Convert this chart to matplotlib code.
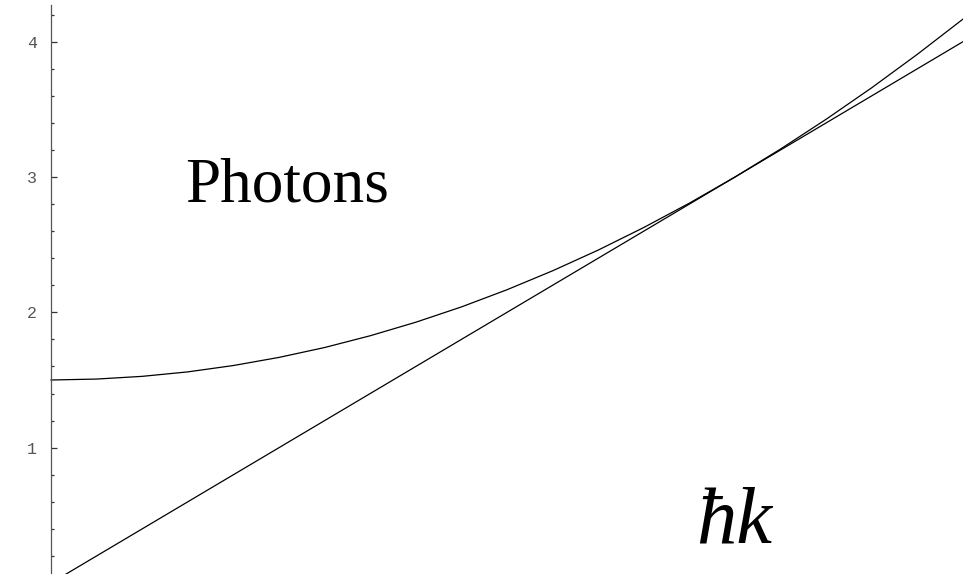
import matplotlib.pyplot as plt
from matplotlib.ticker import MultipleLocator

# energy vs momentum: straight light-like line and the massive (curved) branch
k_line = [0.0, 4.0]
e_line = [0.0, 4.0]

k_curve = [0.0, 0.2, 0.4, 0.6, 0.8, 1.0, 1.2, 1.4, 1.6, 1.8, 2.0,
           2.2, 2.4, 2.6, 2.8, 3.0, 3.2, 3.4, 3.6, 3.8, 4.0]
e_curve = [1.500, 1.507, 1.527, 1.560, 1.607, 1.667, 1.740, 1.827, 1.927,
           2.040, 2.167, 2.307, 2.460, 2.627, 2.807, 3.000, 3.207, 3.427,
           3.660, 3.907, 4.167]

y_major = [1, 2, 3, 4]

fig = plt.figure(figsize=(9.63, 5.74), dpi=100)
ax = fig.add_axes([0, 0, 1, 1])

ax.plot(k_line, e_line, color='black', lw=0.9)
ax.plot(k_curve, e_curve, color='black', lw=0.9)

ax.set_xlim(-0.2237, 4.0)
ax.set_ylim(0.0665, 4.308)

# only a vertical axis through k = 0
for side in ['top', 'right', 'bottom']:
    ax.spines[side].set_visible(False)
ax.spines['left'].set_position(('data', 0))
ax.spines['left'].set_color('#555555')
ax.spines['left'].set_linewidth(0.9)
ax.spines['left'].set_bounds(0.0665, 4.27)

ax.set_xticks([])
ax.set_yticks(y_major)
ax.set_yticklabels([str(v) for v in y_major])
ax.yaxis.set_minor_locator(MultipleLocator(0.2))
ax.tick_params(axis='y', which='major', direction='in', length=4, width=0.9,
               color='#333333', pad=10, labelsize=12, labelcolor='#555555')
ax.tick_params(axis='y', which='minor', direction='in', length=2.5, width=0.9,
               color='#333333')
for lab in ax.get_yticklabels():
    lab.set_family('Liberation Mono')

ax.text(0.587, 2.82, 'Photons', family='Liberation Serif', fontsize=45.5,
        ha='left', va='baseline')
ax.text(2.83, 0.30, '\u0127k', family='Liberation Serif', style='italic',
        fontsize=58, ha='left', va='baseline')

fig.savefig('out.png', dpi=100)
